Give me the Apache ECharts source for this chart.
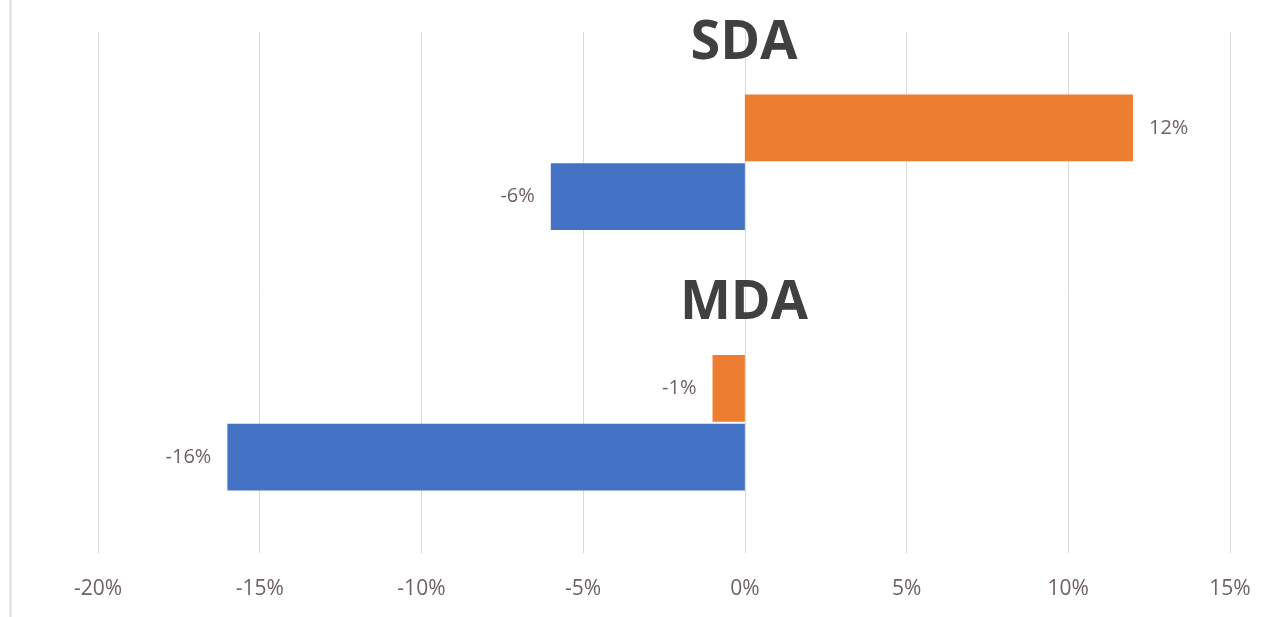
<!DOCTYPE html>
<html>
<head>
<meta charset="utf-8">
<script src="https://cdn.jsdelivr.net/npm/echarts@6/dist/echarts.min.js"></script>
<style>
  html, body { margin: 0; padding: 0; background: #fff; }
  #chart { width: 1266px; height: 617px; }
</style>
</head>
<body>
<div id="chart"></div>
<script>
// categories, top to bottom
var categories = ['SDA', 'MDA'];
// values in percent
var blueValues = [-6, -16];
var orangeValues = [12, -1];
var xTicks = { min: -20, max: 15, step: 5 };

var labelColor = '#6e6262';

function barLabel() {
    return {
        show: true,
        fontFamily: 'Open Sans',
        fontSize: 20,
        color: labelColor,
        distance: 16,
        formatter: '{c}%'
    };
}

function makeData(vals) {
    return vals.map(function (v) {
        return { value: v, label: { position: v < 0 ? 'left' : 'right' } };
    });
}

var chart = echarts.init(document.getElementById('chart'));
var option = {
    animation: false,
    backgroundColor: '#fff',
    grid: { left: 98, right: 36, top: 32, bottom: 64 },
    graphic: [{
        type: 'line',
        shape: { x1: 10.5, y1: 0, x2: 10.5, y2: 617 },
        style: { stroke: '#dedada', lineWidth: 2 }
    }],
    xAxis: {
        type: 'value',
        min: xTicks.min,
        max: xTicks.max,
        interval: xTicks.step,
        axisLine: { show: false },
        axisTick: { show: false },
        axisLabel: {
            formatter: '{value}%',
            fontFamily: 'Open Sans',
            fontSize: 21,
            color: labelColor,
            margin: 26
        },
        splitLine: { lineStyle: { color: '#dcd8d8', width: 1 } }
    },
    yAxis: {
        type: 'category',
        data: categories,
        inverse: true,
        axisLine: { show: true, onZero: true, lineStyle: { color: '#dcd8d8' } },
        axisTick: { show: false },
        axisLabel: {
            margin: -646,
            align: 'center',
            verticalAlign: 'middle',
            formatter: function (v) { return '{t|' + v + '}\n{s|}'; },
            rich: {
                t: {
                    fontFamily: 'Open Sans',
                    fontWeight: 'bold',
                    fontSize: 54,
                    lineHeight: 60,
                    color: '#404040'
                },
                s: { lineHeight: 238 }
            }
        }
    },
    series: [
        {
            name: 'Series 2',
            type: 'bar',
            data: makeData(orangeValues),
            itemStyle: { color: '#ED7D31' },
            barGap: '3%',
            barCategoryGap: '48%',
            label: barLabel()
        },
        {
            name: 'Series 1',
            type: 'bar',
            data: makeData(blueValues),
            itemStyle: { color: '#4472C4' },
            barGap: '3%',
            barCategoryGap: '48%',
            label: barLabel()
        }
    ]
};
chart.setOption(option);
</script>
</body>
</html>
